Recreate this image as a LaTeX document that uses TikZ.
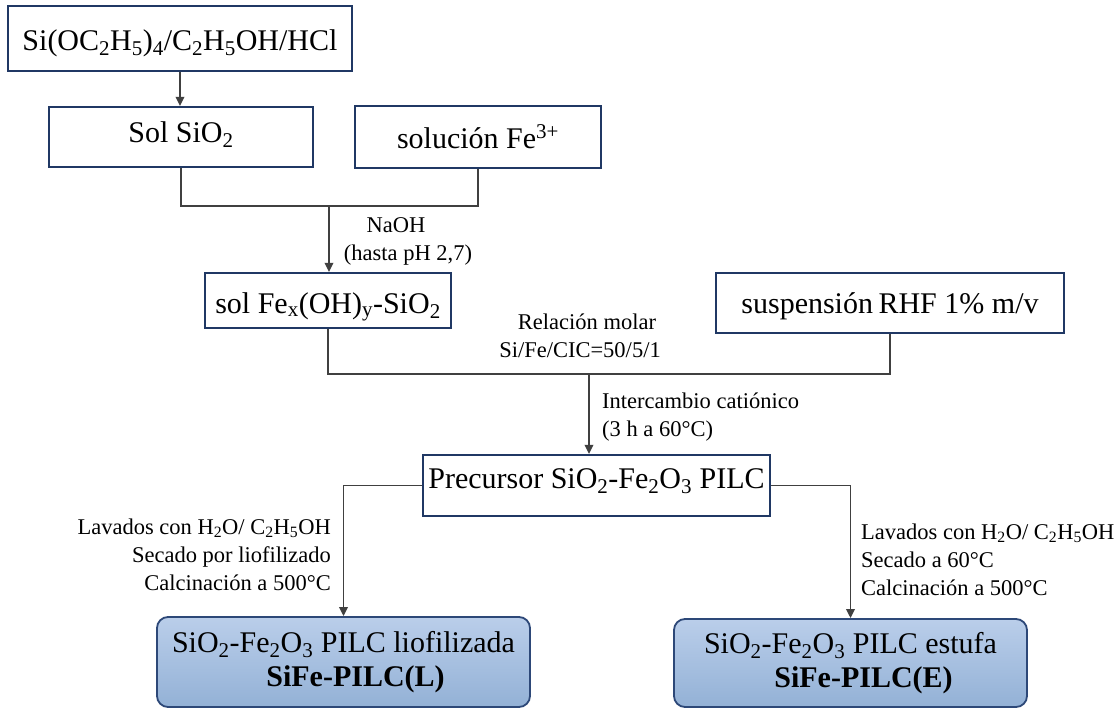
\documentclass[tikz,border=0pt]{standalone}
\usepackage{fontspec}
\setmainfont{Liberation Serif}
\usetikzlibrary{arrows.meta}

\definecolor{navy}{RGB}{32,56,100}
\definecolor{wire}{RGB}{64,64,64}
\definecolor{blueTop}{RGB}{186,206,234}
\definecolor{blueBot}{RGB}{147,177,214}
\definecolor{blueEdge}{RGB}{45,72,120}

\newcommand{\sbs}[1]{\textsubscript{#1}}
\newcommand{\boxfont}{\fontsize{30pt}{34pt}\selectfont}
\newcommand{\notefont}{\fontsize{22.5pt}{28pt}\selectfont}

\begin{document}
\begin{tikzpicture}[x=1pt,y=-1pt,
  stepbox/.style={draw=navy, line width=2.2pt, fill=white, inner sep=0pt,
    font=\boxfont, text depth=8pt, text height=#1},
  stepbox/.default=29pt,
  endbox/.style={draw=blueEdge, line width=1.8pt, rounded corners=11pt,
    top color=blueTop, bottom color=blueBot, align=center, inner sep=0pt,
    font=\boxfont},
  note/.style={font=\notefont, inner sep=0pt},
  wire/.style={draw=wire, line width=1.9pt},
  flow/.style={wire, -{Triangle[length=9pt,width=8.5pt]}}
]
\useasboundingbox (0,0) rectangle (1119,709);

% process boxes
\node[stepbox=32pt, minimum width=344pt, minimum height=65pt] (teos) at (180,38.5)
  {Si(OC\sbs{2}H\sbs{5})\sbs{4}/C\sbs{2}H\sbs{5}OH/HCl};
\node[stepbox=18pt, minimum width=264pt, minimum height=60pt] (solsi) at (181,137)
  {Sol SiO\sbs{2}};
\node[stepbox=30pt, minimum width=246pt, minimum height=62pt] (solfe) at (478,137)
  {solución Fe\textsuperscript{3+}};
\node[stepbox=33pt, minimum width=246pt, minimum height=55pt] (solfex) at (328,300.5)
  {sol Fe\sbs{x}(OH)\sbs{y}-SiO\sbs{2}};
\node[stepbox=29pt, minimum width=348pt, minimum height=60pt] (rhf) at (890,303)
  {suspensión\hspace{-2pt} RHF 1\% m/v};
\node[stepbox=14pt, minimum width=347pt, minimum height=61pt] (prec) at (596.5,485.5)
  {Precursor SiO\sbs{2}-Fe\sbs{2}O\sbs{3} PILC};

% products
\node[endbox, minimum width=373pt, minimum height=90pt] (pilcL) at (343.5,662)
  {SiO\sbs{2}-Fe\sbs{2}O\sbs{3} PILC liofilizada\\
   \hspace*{24pt}\textbf{SiFe-PILC(L)}};
\node[endbox, minimum width=353pt, minimum height=88pt] (pilcE) at (850.5,663)
  {SiO\sbs{2}-Fe\sbs{2}O\sbs{3} PILC estufa\\
   \hspace*{26pt}\textbf{SiFe-PILC(E)}};

% junctions
\coordinate (m1) at (329,206);
\coordinate (m2) at (589,374);

% connectors
\draw[flow] (teos.south) -- (teos.south |- solsi.north);
\draw[wire] (solsi.south) |- (m1) -| (solfe.south);
\draw[flow] (m1) -- (m1 |- solfex.north);
\draw[wire] (solfex.south) |- (m2) -| (rhf.south);
\draw[flow] (m2) -- (m2 |- prec.north);
\draw[flow] (prec.west) -| (pilcL.north);
\draw[flow] (prec.east) -| (pilcE.north);

% conditions
\node[note, align=center] (naoh) at (408,241)
  {NaOH\hspace*{24pt}\\(hasta pH 2,7)};
\node[note, align=center] (ratio) at (580,336)
  {\hspace*{14pt}Relación molar\\Si/Fe/CIC=50/5/1};
\node[note, align=left, anchor=west] (exch) at (602,417)
  {Intercambio catiónico\\(3 h a 60°C)};
\node[note, align=right, anchor=east] (washL) at (331,555)
  {Lavados con H\sbs{2}O/ C\sbs{2}H\sbs{5}OH\\Secado por liofilizado\\Calcinación a 500°C};
\node[note, align=left, anchor=west] (washE) at (861,560)
  {Lavados con H\sbs{2}O/ C\sbs{2}H\sbs{5}OH\\Secado a 60°C\\Calcinación a 500°C};
\end{tikzpicture}
\end{document}
